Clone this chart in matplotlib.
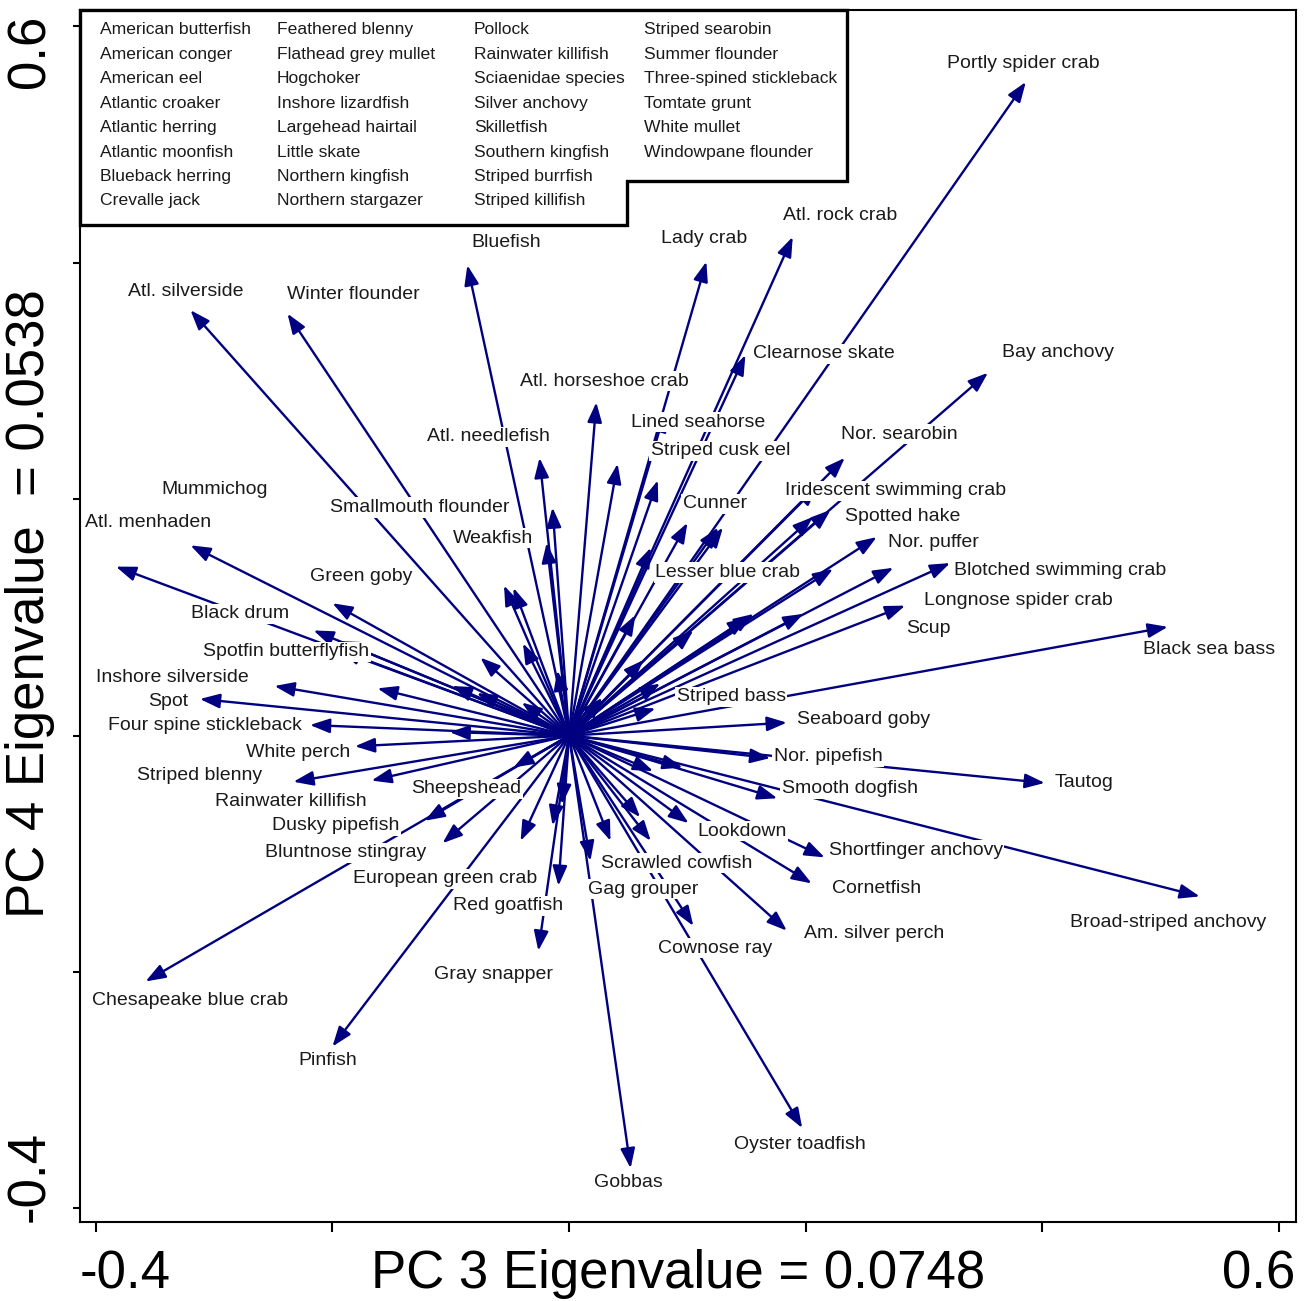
import matplotlib
matplotlib.use('Agg')
import matplotlib.pyplot as plt
from matplotlib import font_manager
from matplotlib.patches import Polygon

# labelled species: arrow tip (PC3, PC4) and label position
names = ['Portly spider crab', 'Atl. rock crab', 'Lady crab', 'Bluefish', 'Atl. silverside',
         'Winter flounder', 'Clearnose skate', 'Bay anchovy', 'Atl. horseshoe crab', 'Lined seahorse',
         'Striped cusk eel', 'Atl. needlefish', 'Nor. searobin', 'Mummichog', 'Atl. menhaden',
         'Smallmouth flounder', 'Weakfish', 'Cunner', 'Iridescent swimming crab', 'Spotted hake',
         'Nor. puffer', 'Lesser blue crab', 'Green goby', 'Black drum', 'Spotfin butterflyfish',
         'Inshore silverside', 'Spot', 'Four spine stickleback', 'White perch', 'Striped blenny',
         'Rainwater killifish', 'Sheepshead', 'Dusky pipefish', 'Bluntnose stingray', 'European green crab',
         'Red goatfish', 'Gray snapper', 'Chesapeake blue crab', 'Pinfish', 'Gobbas',
         'Gag grouper', 'Scrawled cowfish', 'Cownose ray', 'Oyster toadfish', 'Am. silver perch',
         'Cornetfish', 'Shortfinger anchovy', 'Lookdown', 'Smooth dogfish', 'Nor. pipefish',
         'Tautog', 'Broad-striped anchovy', 'Seaboard goby', 'Striped bass', 'Black sea bass',
         'Scup', 'Longnose spider crab', 'Blotched swimming crab']
pc3 = [0.386, 0.189, 0.116, -0.086, -0.320,
       -0.238, 0.149, 0.354, 0.023, 0.081,
       0.075, -0.025, 0.233, -0.320, -0.383,
       -0.047, -0.019, 0.100, 0.210, 0.206,
       0.260, 0.223, -0.200, -0.216, -0.194,
       -0.249, -0.312, -0.219, -0.181, -0.233,
       -0.167, -0.047, -0.122, -0.107, -0.041,
       -0.009, -0.026, -0.358, -0.200, 0.052,
       0.018, 0.069, 0.105, 0.197, 0.184,
       0.205, 0.216, 0.101, 0.176, 0.170,
       0.402, 0.533, 0.184, 0.073, 0.506,
       0.274, 0.284, 0.322]
pc4 = [0.553, 0.422, 0.401, 0.398, 0.360,
       0.357, 0.322, 0.307, 0.282, 0.274,
       0.216, 0.235, 0.235, 0.161, 0.143,
       0.125, 0.163, 0.180, 0.211, 0.185,
       0.168, 0.141, 0.112, 0.089, 0.080,
       0.042, 0.031, 0.009, -0.009, -0.039,
       -0.038, -0.027, -0.072, -0.091, -0.089,
       -0.127, -0.182, -0.208, -0.263, -0.366,
       -0.106, -0.089, -0.161, -0.332, -0.165,
       -0.125, -0.103, -0.074, -0.053, -0.019,
       -0.040, -0.136, 0.011, 0.023, 0.092,
       0.142, 0.110, 0.146]
label_x = [0.384, 0.229, 0.114, -0.053, -0.324,
           -0.182, 0.215, 0.413, 0.030, 0.109,
           0.128, -0.068, 0.279, -0.300, -0.356,
           -0.126, -0.064, 0.123, 0.276, 0.282,
           0.308, 0.134, -0.176, -0.278, -0.239,
           -0.335, -0.339, -0.308, -0.229, -0.312,
           -0.235, -0.087, -0.197, -0.189, -0.105,
           -0.052, -0.064, -0.320, -0.204, 0.050,
           0.063, 0.091, 0.123, 0.195, 0.258,
           0.260, 0.293, 0.146, 0.237, 0.219,
           0.435, 0.506, 0.249, 0.137, 0.541,
           0.304, 0.380, 0.415]
label_y = [0.569, 0.440, 0.421, 0.417, 0.376,
           0.373, 0.323, 0.324, 0.300, 0.265,
           0.241, 0.253, 0.255, 0.208, 0.180,
           0.193, 0.167, 0.196, 0.207, 0.185,
           0.163, 0.138, 0.135, 0.103, 0.071,
           0.049, 0.029, 0.009, -0.014, -0.034,
           -0.056, -0.045, -0.076, -0.099, -0.121,
           -0.144, -0.202, -0.224, -0.275, -0.378,
           -0.130, -0.108, -0.180, -0.346, -0.167,
           -0.129, -0.097, -0.081, -0.045, -0.018,
           -0.040, -0.158, 0.014, 0.033, 0.073,
           0.091, 0.114, 0.140]

# unlabelled species, listed in the key box
key_names = ['American butterfish', 'American conger', 'American eel', 'Atlantic croaker',
             'Atlantic herring', 'Atlantic moonfish', 'Blueback herring', 'Crevalle jack',
             'Feathered blenny', 'Flathead grey mullet', 'Hogchoker', 'Inshore lizardfish',
             'Largehead hairtail', 'Little skate', 'Northern kingfish', 'Northern stargazer',
             'Pollock', 'Rainwater killifish', 'Sciaenidae species', 'Silver anchovy',
             'Skilletfish', 'Southern kingfish', 'Striped burrfish', 'Striped killifish',
             'Striped searobin', 'Summer flounder', 'Three-spined stickleback', 'Tomtate grunt',
             'White mullet', 'Windowpane flounder']
key_pc3 = [0.041, 0.028, -0.014, -0.055, 0.126, 0.069, 0.056, 0.156, 0.198, 0.063,
           0.077, 0.105, -0.039, -0.075, -0.099, -0.078, -0.040, -0.010, -0.101, -0.162,
           -0.006, -0.014, 0.035, 0.060, 0.071, 0.096, 0.151, 0.130, 0.221, -0.194]
key_pc4 = [0.230, 0.032, 0.193, 0.127, 0.176, 0.159, 0.102, 0.103, 0.103, 0.064,
           0.044, 0.089, 0.078, 0.066, 0.042, 0.036, 0.028, 0.055, 0.003, 0.040,
           -0.058, -0.076, -0.089, -0.069, -0.030, -0.027, 0.100, 0.176, 0.191, 0.072]

x_ticks = [-0.4, -0.2, 0.0, 0.2, 0.4, 0.6]
y_ticks = [-0.4, -0.2, 0.0, 0.2, 0.4, 0.6]
x_title = 'PC 3 Eigenvalue = 0.0748'
y_title = 'PC 4 Eigenvalue  = 0.0538'

arrow_color = '#000080'
plt.rcParams['font.family'] = ['Liberation Sans', 'DejaVu Sans']

try:
    font_manager.findfont('Liberation Sans Narrow', fallback_to_default=False)
    key_font, key_size = 'Liberation Sans Narrow', 15.3
except ValueError:
    key_font, key_size = 'Liberation Sans', 12.6

fig = plt.figure(figsize=(13.11, 13.01), dpi=100)
ax = fig.add_axes([0.061, 0.0607, 0.9276, 0.9316])
ax.set_xlim(-0.4134, 0.6144)
ax.set_ylim(-0.4115, 0.6139)

arrow_style = '-|>,head_length=0.6,head_width=0.22'
for x, y in zip(key_pc3 + pc3, key_pc4 + pc4):
    ax.annotate('', xy=(x, y), xytext=(0, 0),
                arrowprops=dict(arrowstyle=arrow_style, color=arrow_color, lw=1.7,
                                shrinkA=0, shrinkB=0, mutation_scale=20),
                zorder=2)

for name, lx, ly in zip(names, label_x, label_y):
    ax.text(lx, ly, name, ha='center', va='center', fontsize=14, color='#1a1a1a',
            bbox=dict(boxstyle='square,pad=0.08', fc='white', ec='none'), zorder=3)

# key box with the step in its lower edge
box = Polygon([(-0.4134, 0.6139), (0.235, 0.6139), (0.235, 0.4691), (0.049, 0.4691),
               (0.049, 0.4318), (-0.4134, 0.4318)], closed=True,
              fc='white', ec='black', lw=2.4, zorder=4, clip_on=False)
ax.add_patch(box)
col_x = [-0.3964, -0.2468, -0.0803, 0.0634]
for i, name in enumerate(key_names):
    col, row = divmod(i, 8)
    ax.text(col_x[col], 0.597 - row * 0.02066, name, ha='left', va='center',
            fontsize=key_size, family=key_font, color='#1a1a1a', zorder=5)

ax.set_xticks(x_ticks)
ax.set_yticks(y_ticks)
ax.set_xticklabels([])
ax.set_yticklabels([])
ax.tick_params(axis='x', direction='out', length=7, width=1.5)
ax.tick_params(axis='y', direction='out', length=5, width=1.5)
for sp in ax.spines.values():
    sp.set_linewidth(1.5)

fig.text(0.061, 0.0205, '-0.4', ha='left', va='center', fontsize=38)
fig.text(0.9878, 0.0205, '0.6', ha='right', va='center', fontsize=38)
fig.text(0.5172, 0.0205, x_title, ha='center', va='center', fontsize=38)
fig.text(0.0229, 0.9885, '0.6', ha='center', va='top', rotation=90, fontsize=38)
fig.text(0.0229, 0.0607, '-0.4', ha='center', va='bottom', rotation=90, fontsize=38)
fig.text(0.0229, 0.5357, y_title, ha='center', va='center', rotation=90, fontsize=38)

fig.savefig('out.png', dpi=100)
